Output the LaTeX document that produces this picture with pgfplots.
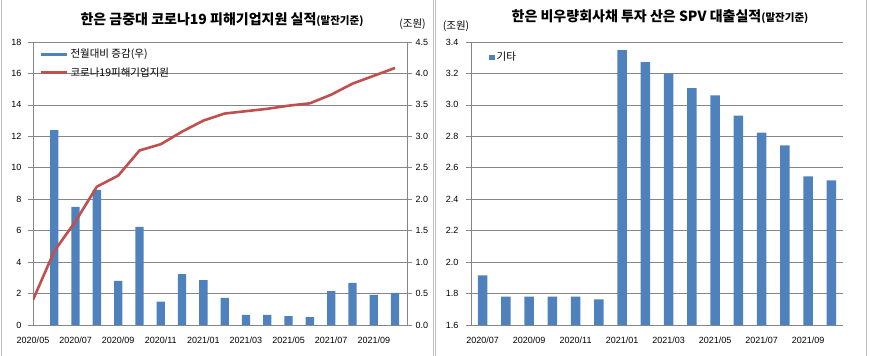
\documentclass[border=0pt]{standalone}
\usepackage{pgfplots}
\pgfplotsset{compat=1.18}
\usepackage{fontspec}
\setmainfont{Liberation Sans}
\newfontfamily\kr{Noto Sans CJK KR}
\definecolor{barblue}{HTML}{4F81BD}
\definecolor{linered}{HTML}{C0504D}
\definecolor{axgray}{HTML}{868686}
\definecolor{framegray}{HTML}{BFBFBF}
\pgfplotsset{
  base/.style={scale only axis, anchor=south west, height=283pt,
    axis line style={axgray, line width=0.7pt},
    every tick/.style={axgray, line width=0.7pt},
    major tick length=5pt, tick align=outside,
    tick label style={font=\fontsize{9}{10}\selectfont, text=black},
    /pgf/number format/assume math mode=true,
    grid style={axgray, line width=0.7pt},
    legend style={draw=none, fill=none, font=\kr\fontsize{10.5}{12}\selectfont, cells={anchor=west}},
  },
}
\begin{document}
\begin{tikzpicture}
\path[use as bounding box] (0pt,0pt) rectangle (870pt,356pt);
\draw[framegray, line width=0.8pt] (1.5pt,0pt) -- (1.5pt,356pt);
\draw[framegray, line width=0.8pt] (433.3pt,0pt) -- (433.3pt,356pt);
\draw[framegray, line width=0.8pt] (435.8pt,0pt) -- (435.8pt,356pt);
\draw[framegray, line width=0.8pt] (866.5pt,0pt) -- (866.5pt,356pt);

% ---------- left chart: bars on right axis ----------
\begin{axis}[base, at={(33pt,31pt)}, width=374pt,
  xmin=0, xmax=17.56, ymin=0, ymax=4.5,
  axis y line*=right, axis x line=none,
  ytick={0,0.5,...,4.5},
  yticklabel style={/pgf/number format/.cd, fixed, fixed zerofill, precision=1},
  ymajorgrids,
  ybar, bar width=8.3pt,
  legend style={at={(rel axis cs:0,1)}, anchor=north west, xshift=3pt, yshift=-3pt, row sep=4pt},
  ]
\addplot[draw=none, fill=barblue,
  legend image code/.code={\fill[barblue] (0pt,-1.7pt) rectangle (26pt,1.7pt);}]
  coordinates {(1,3.1) (2,1.88) (3,2.15) (4,0.70) (5,1.56) (6,0.37) (7,0.81) (8,0.715) (9,0.43)
  (10,0.16) (11,0.16) (12,0.14) (13,0.125) (14,0.54) (15,0.67) (16,0.48) (17,0.51)};
\addlegendentry{전월대비 증감(우)}
\addlegendimage{legend image code/.code={\draw[linered, line width=3.3pt] (0pt,0pt) -- (26pt,0pt);}}
\addlegendentry{코로나19피해기업지원}
\end{axis}

% ---------- left chart: line on left axis ----------
\begin{axis}[base, at={(33pt,31pt)}, width=374pt,
  xmin=0, xmax=17.56, ymin=0, ymax=18,
  axis y line*=left, axis x line*=bottom,
  ytick={0,2,...,18},
  yticklabel style={xshift=-3pt},
  xtick={0,2,...,16},
  xticklabels={2020/05,2020/07,2020/09,2020/11,2021/01,2021/03,2021/05,2021/07,2021/09},
  x tick style={draw=none}, xticklabel style={yshift=-3pt},
  ]
\addplot[linered, line width=2.6pt, line join=round, mark=none]
  coordinates {(0,1.6) (1,4.7) (2,6.6) (3,8.8) (4,9.5) (5,11.1) (6,11.5) (7,12.3) (8,13.0)
  (9,13.45) (10,13.6) (11,13.75) (12,13.95) (13,14.1) (14,14.65) (15,15.35) (16,15.85) (17,16.35)};
\end{axis}

\node[anchor=base, inner sep=0pt] at (222pt,331.5pt) {\kr\bfseries\fontsize{14}{16}\selectfont 한은 금중대 코로나19 피해기업지원 실적{\fontsize{10.5}{12}\selectfont(말잔기준)}};
\node[anchor=base, inner sep=0pt] at (412.5pt,328.5pt) {\kr\fontsize{10.5}{12}\selectfont(조원)};

% ---------- right chart ----------
\begin{axis}[base, at={(471pt,31pt)}, width=372pt,
  xmin=-0.5, xmax=15.5, ymin=1.6, ymax=3.4,
  axis y line*=left, axis x line*=bottom,
  ytick={1.6,1.8,...,3.41},
  yticklabel style={xshift=-4pt, /pgf/number format/.cd, fixed, fixed zerofill, precision=1},
  ymajorgrids,
  xtick={0,2,...,14},
  xticklabels={2020/07,2020/09,2020/11,2021/01,2021/03,2021/05,2021/07,2021/09},
  x tick style={draw=none}, xticklabel style={yshift=-3pt},
  ybar, bar width=9.3pt,
  legend style={at={(rel axis cs:0,1)}, anchor=north west, xshift=15pt, yshift=-6pt},
  ]
\addplot[draw=none, fill=barblue,
  legend image code/.code={\fill[barblue] (0pt,-2.7pt) rectangle (5.4pt,2.7pt);}]
  coordinates {(0,1.915) (1,1.78) (2,1.78) (3,1.78) (4,1.78) (5,1.763) (6,3.349) (7,3.272)
  (8,3.2) (9,3.106) (10,3.06) (11,2.932) (12,2.823) (13,2.742) (14,2.546) (15,2.52)};
\addlegendentry{기타}
\end{axis}

\node[anchor=base, inner sep=0pt] at (660pt,334pt) {\kr\bfseries\fontsize{14}{16}\selectfont 한은 비우량회사채 투자 산은 SPV 대출실적{\fontsize{10.5}{12}\selectfont(말잔기준)}};
\node[anchor=base, inner sep=0pt] at (456pt,326.5pt) {\kr\fontsize{10.5}{12}\selectfont(조원)};
\end{tikzpicture}
\end{document}
